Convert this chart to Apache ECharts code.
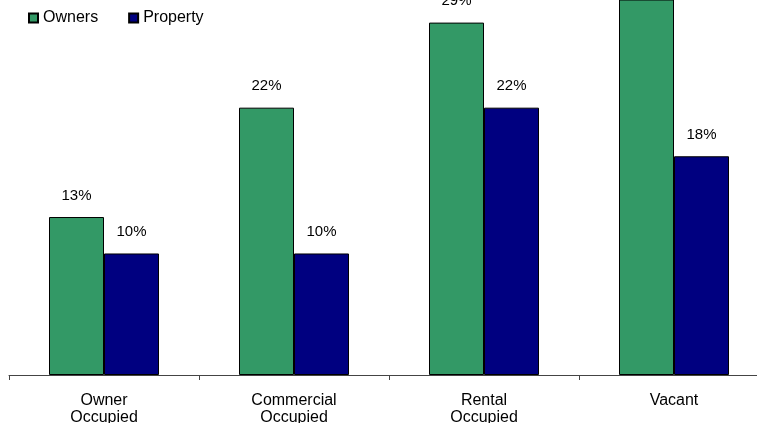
<!DOCTYPE html>
<html><head><meta charset="utf-8">
<script src="https://cdn.jsdelivr.net/npm/echarts@6/dist/echarts.min.js"></script>
<style>html,body{margin:0;padding:0;background:#fff;overflow:hidden}#c{width:769px;height:423px}</style>
</head><body><div id="c"></div>
<script>
var categories = ['Owner\nOccupied', 'Commercial\nOccupied', 'Rental\nOccupied', 'Vacant'];
var owners = [13, 22, 29, 34];
var property = [10, 10, 22, 18];
var seriesNames = ['Owners', 'Property'];

var chart = echarts.init(document.getElementById('c'));
var font = 'Liberation Sans, Arial, sans-serif';
function lbl(){
  return {show:true, position:'top', distance:14, formatter:'{c}%', color:'#000', fontSize:15, fontFamily:font};
}
chart.setOption({
  animation:false,
  legend:{left:23, top:5, itemWidth:9, itemHeight:9, itemGap:30, icon:'rect',
    textStyle:{fontSize:16, color:'#000', fontFamily:font},
    data:seriesNames},
  grid:{left:9, right:0, top:0, bottom:48, containLabel:false, outerBoundsMode:'none'},
  xAxis:{type:'category', data:categories,
    axisLine:{lineStyle:{color:'#444', width:1}},
    axisTick:{show:true, length:5, lineStyle:{color:'#444'}},
    axisLabel:{color:'#000', fontSize:16, fontFamily:font, margin:17, lineHeight:17, interval:0}},
  yAxis:{type:'value', min:0, max:30.86, show:false, splitLine:{show:false}},
  series:[
    {name:seriesNames[0], type:'bar', data:owners, barWidth:55, barGap:'0%',
     itemStyle:{color:'#339966', borderColor:'#000', borderWidth:1}, label:lbl()},
    {name:seriesNames[1], type:'bar', data:property, barWidth:55,
     itemStyle:{color:'#000080', borderColor:'#000', borderWidth:1}, label:lbl()}
  ]
});
</script></body></html>
